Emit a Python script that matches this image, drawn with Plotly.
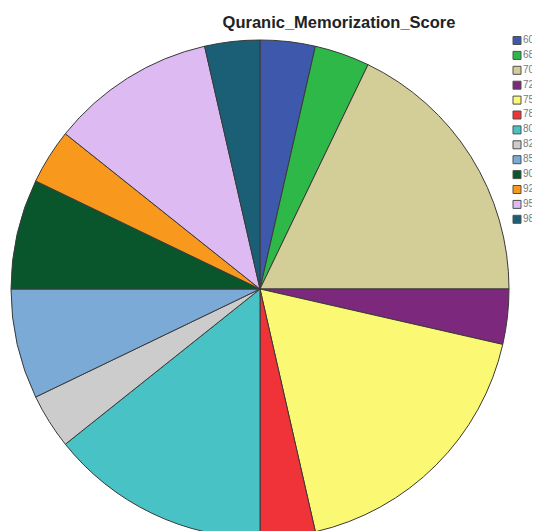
import plotly.graph_objects as go

scores = ["60", "68", "70", "72", "75", "78", "80", "82", "85", "90", "92", "95", "98"]
counts = [1, 1, 5, 1, 5, 1, 4, 1, 2, 2, 1, 3, 1]
colors = ["#3E58AC", "#2EB848", "#D3CE97", "#7C287D", "#FBF873", "#EF3338",
          "#48C2C5", "#CCCCCC", "#7AAAD5", "#0A562C", "#F8981D", "#DDBAF1", "#1A5F76"]

# the page body has an 8px margin, so figure pixel = screen pixel - 8
OFF = 8
W, H = 532, 540

def px_x(sx):
    return (sx - OFF) / W

def px_y(sy):
    return 1 - (sy - OFF) / H

fig = go.Figure()
fig.add_trace(go.Pie(
    labels=scores,
    values=counts,
    sort=False,
    direction="clockwise",
    rotation=0,
    textinfo="none",
    hoverinfo="label+value+percent",
    showlegend=False,
    marker=dict(colors=colors, line=dict(color="#3a3a3a", width=1)),
    domain=dict(x=[px_x(11), px_x(509)], y=[px_y(538), px_y(40)]),
))

# legend drawn as a small scatter on its own axes
idx = list(range(len(scores)))
fig.add_trace(go.Scatter(
    x=[9] * len(scores), y=idx,
    mode="markers+text",
    text=scores, textposition="middle right",
    textfont=dict(family="Liberation Sans, Arial", size=10, color="#7a7a7a"),
    marker=dict(symbol="square", size=8, color=colors, line=dict(color="#505050", width=1)),
    xaxis="x2", yaxis="y2", showlegend=False, hoverinfo="skip", cliponaxis=False,
))

top_px, step = 40.5, 14.9
y0 = top_px - step / 2
y1 = top_px + step * (len(scores) - 0.5)

fig.update_layout(
    width=W, height=H,
    margin=dict(l=0, r=0, t=0, b=0),
    paper_bgcolor="white",
    plot_bgcolor="rgba(0,0,0,0)",
    title=dict(text="<b>Quranic_Memorization_Score</b>", x=px_x(339), xanchor="center",
               y=px_y(22), yanchor="middle",
               font=dict(family="Liberation Sans, Arial", size=16.5, color="#222222")),
    xaxis2=dict(domain=[px_x(508), 1], range=[0, 32], visible=False, fixedrange=True),
    yaxis2=dict(domain=[px_y(y1), px_y(y0)], range=[len(scores) - 0.5, -0.5],
                visible=False, fixedrange=True, anchor="x2"),
    showlegend=False,
)

fig.write_html("out.html")
